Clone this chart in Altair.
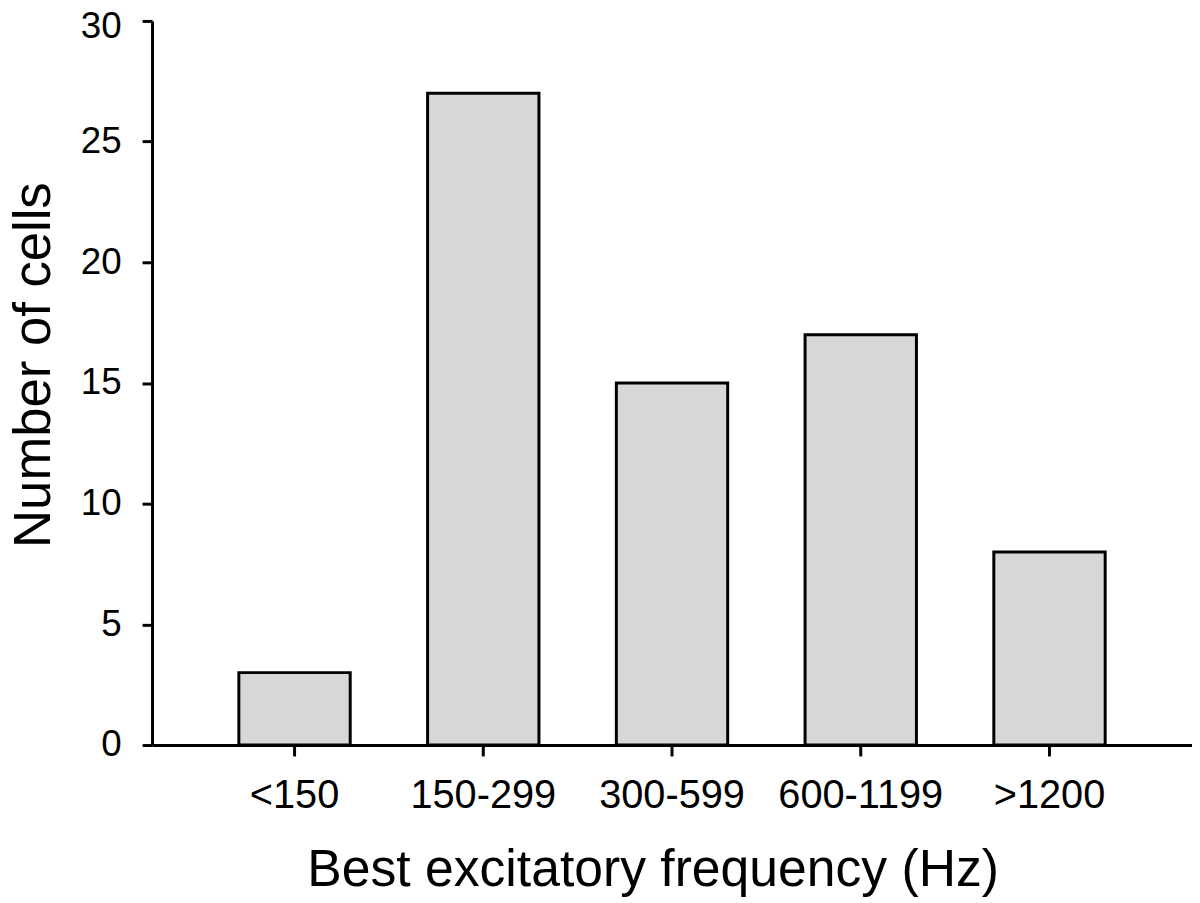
import altair as alt
import pandas as pd

categories = ["<150", "150-299", "300-599", "600-1199", ">1200"]
counts = [3, 27, 15, 17, 8]
y_ticks = [0, 5, 10, 15, 20, 25, 30]

df = pd.DataFrame({"band": categories, "cells": counts})

FONT = "Liberation Sans"

chart = alt.Chart(df).mark_bar(
    fill="#d6d8d7", stroke="black", strokeWidth=3
).encode(
    x=alt.X(
        "band:N",
        sort=categories,
        scale=alt.Scale(paddingInner=0.41, paddingOuter=0.46),
        axis=alt.Axis(
            title="Best excitatory frequency (Hz)",
            labelAngle=0,
            labelFont=FONT,
            labelFontSize=40,
            labelColor="black",
            labelPadding=20,
            tickSize=11,
            tickWidth=3,
            tickColor="black",
            domainWidth=3,
            domainColor="black",
            titleFont=FONT,
            titleFontSize=52,
            titleFontWeight="normal",
            titleColor="black",
            titleX=504,
            titleY=141,
            titleBaseline="alphabetic",
            titleAlign="center",
        ),
    ),
    y=alt.Y(
        "cells:Q",
        scale=alt.Scale(domain=[0, 30], nice=False),
        axis=alt.Axis(
            title="Number of cells",
            values=y_ticks,
            grid=False,
            labelFont=FONT,
            labelFontSize=37,
            labelColor="black",
            labelPadding=21,
            labelOffset={"condition": {"test": "datum.value == 30", "value": 6}, "value": 0},
            tickSize=10,
            tickWidth=3,
            tickColor="black",
            domainWidth=3,
            domainColor="black",
            titleFont=FONT,
            titleFontSize=53,
            titleFontWeight="normal",
            titleColor="black",
            titleAngle=-90,
            titleX=-103,
            titleY=346,
            titleBaseline="alphabetic",
            titleAlign="center",
        ),
    ),
).properties(
    width=1047,
    height=729,
    autosize=alt.AutoSizeParams(type="none"),
    padding={"left": 145, "top": 10, "right": 0, "bottom": 155},
).configure_view(stroke=None).configure_axis(grid=False)

chart.save("out.html", embed_options={"renderer": "svg", "actions": False})
